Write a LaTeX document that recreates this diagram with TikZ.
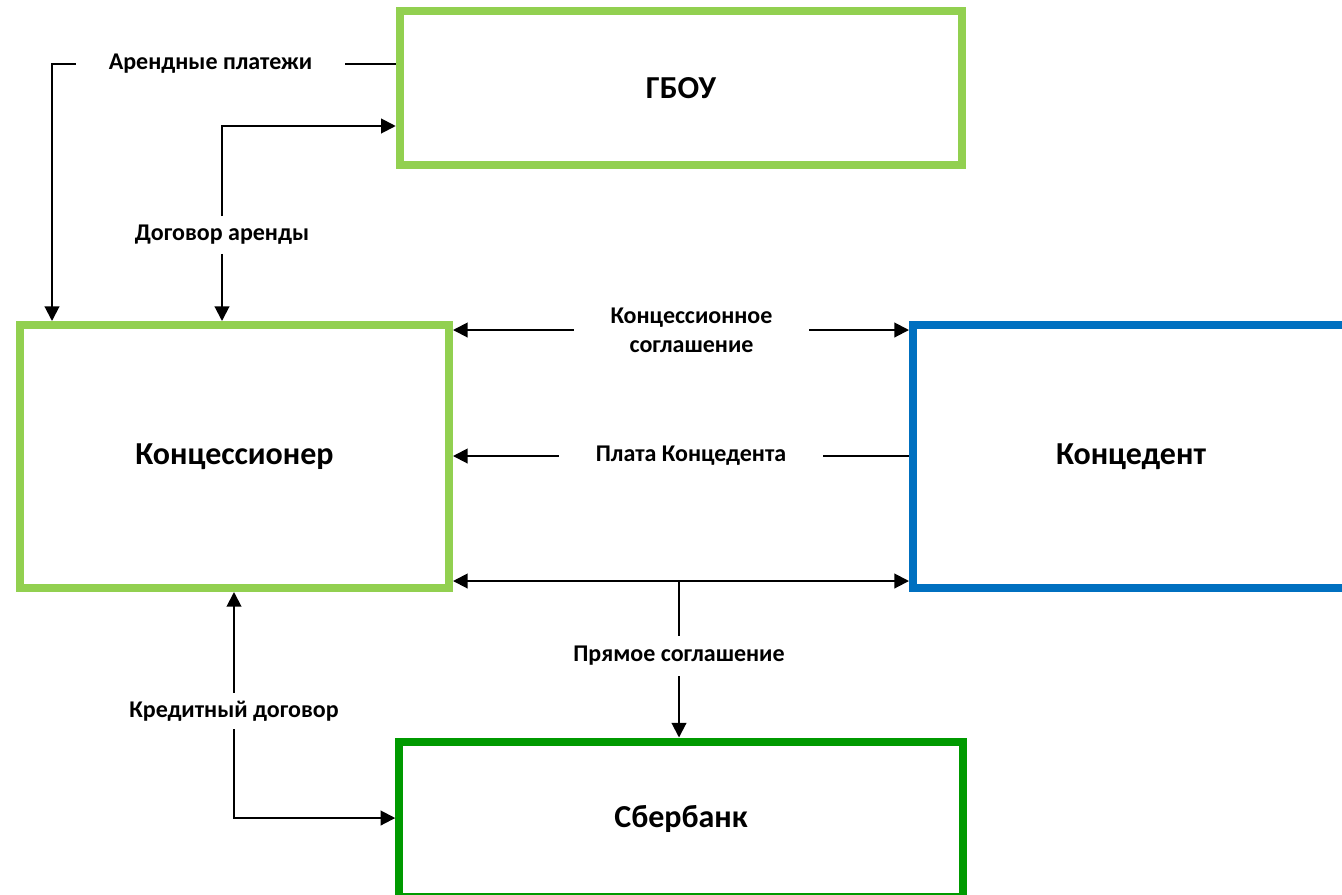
\documentclass[tikz,border=0pt]{standalone}
\usepackage{fontspec}
\setmainfont{Carlito}
\usepackage{tikz}
\usetikzlibrary{arrows.meta}
\definecolor{lightgreen}{HTML}{92D050}
\definecolor{darkgreen}{HTML}{009A00}
\definecolor{officeblue}{HTML}{0070C0}

\begin{document}
\begin{tikzpicture}[x=0.75pt, y=-0.75pt,
  party/.style={draw, line width=6pt, rectangle, inner sep=0pt, font=\fontsize{24}{29}\selectfont\bfseries},
  lbl/.style={inner sep=0pt, align=center, font=\fontsize{18}{21.75}\selectfont\bfseries},
  link/.style={line width=1.5pt, line join=miter},
  arr/.style={link, -{Triangle[length=11pt,width=11pt]}},
  arrs/.style={link, {Triangle[length=11pt,width=11pt]}-{Triangle[length=11pt,width=11pt]}}]
\clip (0,0) rectangle (1342,894);
\node[party, color=lightgreen, text=black, minimum width=421.9pt, minimum height=115.5pt] (gbou) at (681,88) {ГБОУ};
\node[party, color=lightgreen, text=black, minimum width=321.75pt, minimum height=197.25pt] (konc) at (234.5,456.5) {Концессионер};
\node[party, color=officeblue, text=black, minimum width=327pt, minimum height=197.25pt] (kced) at (1131,456.5) {Концедент};
\node[party, color=darkgreen, text=black, minimum width=422.6pt, minimum height=116.25pt] (sber) at (681,819) {Сбербанк};

\node[lbl, minimum width=201.75pt] (arend) at (210.5,64) {Арендные платежи};
\node[lbl, minimum height=27.75pt] (dogovor) at (222,235) {Договор аренды};
\node[lbl, minimum width=176.25pt] (koncsogl) at (691.5,330) {Концессионное\\соглашение};
\node[lbl, minimum width=198pt] (plata) at (691,456) {Плата Концедента};
\node[lbl, minimum height=30pt] (pryamoe) at (679,656) {Прямое соглашение};
\node[lbl, minimum height=27pt] (kredit) at (234,711) {Кредитный договор};

\coordinate (c1) at (52,64);
\coordinate (c2) at (222,126);
\coordinate (c3) at (679,581);
\coordinate (c4) at (234,818);

\draw[link] (arend.east) -- (arend.east -| gbou.west);
\draw[arr] (arend.west) -- (c1) -- (c1 |- konc.north);
\draw[arr] (dogovor.north) -- (c2) -- (c2 -| gbou.west);
\draw[arr] (dogovor.south) -- (dogovor.south |- konc.north);
\draw[arr] (koncsogl.west) -- (koncsogl.west -| konc.east);
\draw[arr] (koncsogl.east) -- (koncsogl.east -| kced.west);
\draw[arr] (plata.west) -- (plata.west -| konc.east);
\draw[link] (plata.east) -- (plata.east -| kced.west);
\draw[arrs] (c3 -| konc.east) -- (c3 -| kced.west);
\draw[link] (c3) -- (pryamoe.north);
\draw[arr] (pryamoe.south) -- (pryamoe.south |- sber.north);
\draw[arr] (kredit.north) -- (kredit.north |- konc.south);
\draw[arr] (kredit.south) -- (c4) -- (c4 -| sber.west);
\end{tikzpicture}
\end{document}
